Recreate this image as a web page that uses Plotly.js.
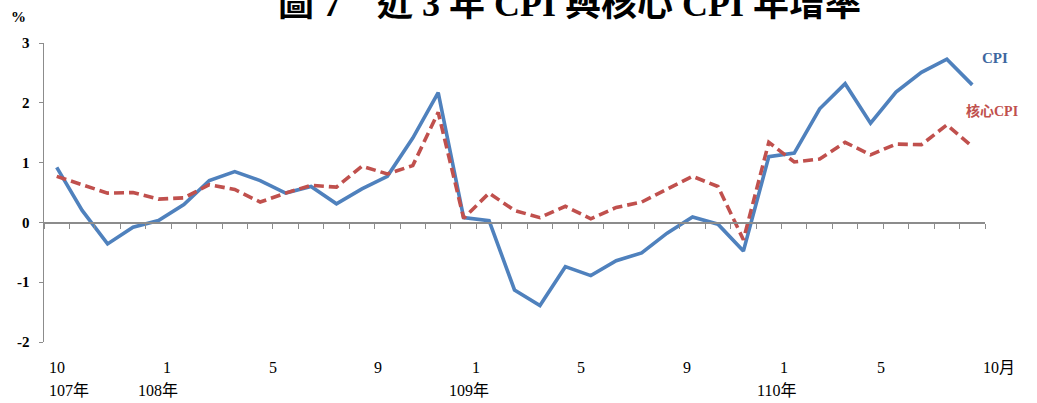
<!DOCTYPE html>
<html>
<head>
<meta charset="utf-8">
<script src="https://cdn.plot.ly/plotly-3.0.1.min.js"></script>
<style>
html,body{margin:0;padding:0;background:#fff;}
#chart{width:1037px;height:403px;}
</style>
</head>
<body>
<div id="chart"></div>
<script>
// Months from 107年10月 to 110年10月 (37 monthly points)
const months = [
  '107/10','107/11','107/12',
  '108/01','108/02','108/03','108/04','108/05','108/06','108/07','108/08','108/09','108/10','108/11','108/12',
  '109/01','109/02','109/03','109/04','109/05','109/06','109/07','109/08','109/09','109/10','109/11','109/12',
  '110/01','110/02','110/03','110/04','110/05','110/06','110/07','110/08','110/09','110/10'
];
const cpi = [
  0.92, 0.20, -0.36,
  -0.08, 0.03, 0.30, 0.70, 0.85, 0.70, 0.49, 0.60, 0.31, 0.56, 0.77, 1.41,
  2.17, 0.08, 0.03, -1.13, -1.39, -0.74, -0.89, -0.64, -0.51, -0.18, 0.09, -0.03,
  -0.48, 1.10, 1.16, 1.90, 2.32, 1.66, 2.18, 2.51, 2.73, 2.30
];
const coreCpi = [
  0.77, 0.63, 0.49,
  0.50, 0.39, 0.41, 0.63, 0.55, 0.34, 0.49, 0.62, 0.59, 0.94, 0.81, 0.95,
  1.84, 0.07, 0.49, 0.20, 0.08, 0.27, 0.06, 0.25, 0.34, 0.55, 0.77, 0.60,
  -0.29, 1.34, 1.01, 1.06, 1.34, 1.13, 1.31, 1.30, 1.63, 1.27
];
// Axis tick labels (month row and year row) and where they sit on the category scale
const monthLabels = ['10','1','5','9','1','5','9','1','5','10月'];
const monthLabelPos = [0, 4.33, 8.5, 12.63, 16.48, 20.61, 24.78, 28.6, 32.4, 37.05];
const yearLabels = ['107年','108年','109年','110年'];
const yearLabelPos = [0.5, 4.0, 16.2, 28.3];
const yTicks = [-2, -1, 0, 1, 2, 3];
const yTickText = ['-2', '-1', '0', '1', '2', '3'];

const nCat = months.length;
const xIdx = months.map((m, i) => i);
const boundaries = [];
for (let k = 0; k <= nCat; k++) boundaries.push(k - 0.5);
// category position -> paper fraction (range is [-0.5, n-0.5])
const catToPaper = p => (p + 0.5) / nCat;

const serif = '"Liberation Serif", "Times New Roman", "Noto Sans CJK TC", serif';

const traces = [
  {
    x: xIdx, y: cpi, type: 'scatter', mode: 'lines', name: 'CPI',
    text: months, hoverinfo: 'text+y',
    line: {color: '#4F81BD', width: 3.6}
  },
  {
    x: xIdx, y: coreCpi, type: 'scatter', mode: 'lines', name: '核心CPI',
    text: months, hoverinfo: 'text+y',
    line: {color: '#C0504D', width: 3.6, dash: '10px,5px'}
  }
];

const annotations = [];
monthLabels.forEach((t, i) => annotations.push({
  text: t, x: catToPaper(monthLabelPos[i]), xref: 'paper', y: -0.086, yref: 'paper',
  xanchor: 'center', yanchor: 'middle', showarrow: false,
  font: {family: serif, size: 16, color: '#000'}
}));
yearLabels.forEach((t, i) => annotations.push({
  text: t, x: catToPaper(yearLabelPos[i]), xref: 'paper', y: -0.163, yref: 'paper',
  xanchor: 'center', yanchor: 'middle', showarrow: false,
  font: {family: serif, size: 16, color: '#000'}
}));
annotations.push({
  text: '%', x: (18 - 44) / 941, xref: 'paper', xanchor: 'center', y: 1.088, yref: 'paper', yanchor: 'middle',
  showarrow: false, font: {family: serif, size: 15, color: '#000', weight: 'bold'}
});
annotations.push({
  text: 'CPI', x: 1.0106, xref: 'paper', y: 0.95, yref: 'paper',
  xanchor: 'center', yanchor: 'middle', showarrow: false,
  font: {family: serif, size: 15, color: '#3D67A0', weight: 'bold'}
});
annotations.push({
  text: '核心CPI', x: 1.007, xref: 'paper', y: 0.773, yref: 'paper',
  xanchor: 'center', yanchor: 'middle', showarrow: false,
  font: {family: serif, size: 14, color: '#C0504D', weight: 'bold'}
});
annotations.push({
  text: '圖 7　近 3 年 CPI 與核心 CPI 年增率', x: 0.558, xref: 'paper', y: 1.057, yref: 'paper',
  xanchor: 'center', yanchor: 'bottom', showarrow: false,
  font: {family: serif, size: 36, color: '#000', weight: 'bold'}
});

const layout = {
  width: 1037, height: 403,
  margin: {l: 44, r: 52, t: 43, b: 61, pad: 0},
  paper_bgcolor: '#fff', plot_bgcolor: '#fff',
  showlegend: false,
  xaxis: {
    range: [-0.5, nCat - 0.5],
    anchor: 'free', position: 0.4,
    showline: true, linecolor: '#8C8C8C', linewidth: 1.5,
    showgrid: false, zeroline: false,
    ticks: 'outside', ticklen: 5, tickwidth: 1, tickcolor: '#8C8C8C',
    tickmode: 'array', tickvals: boundaries, showticklabels: false,
    fixedrange: true
  },
  yaxis: {
    range: [-2, 3],
    showline: true, linecolor: '#8C8C8C', linewidth: 1.5,
    showgrid: false, zeroline: false,
    ticks: 'outside', ticklen: 4, tickwidth: 1, tickcolor: '#8C8C8C',
    tickmode: 'array', tickvals: yTicks, ticktext: yTickText,
    ticklabelstandoff: 6,
    tickfont: {family: serif, size: 15, color: '#000', weight: 'bold'},
    fixedrange: true
  },
  annotations: annotations
};

Plotly.newPlot('chart', traces, layout, {displayModeBar: false, staticPlot: true});
</script>
</body>
</html>
